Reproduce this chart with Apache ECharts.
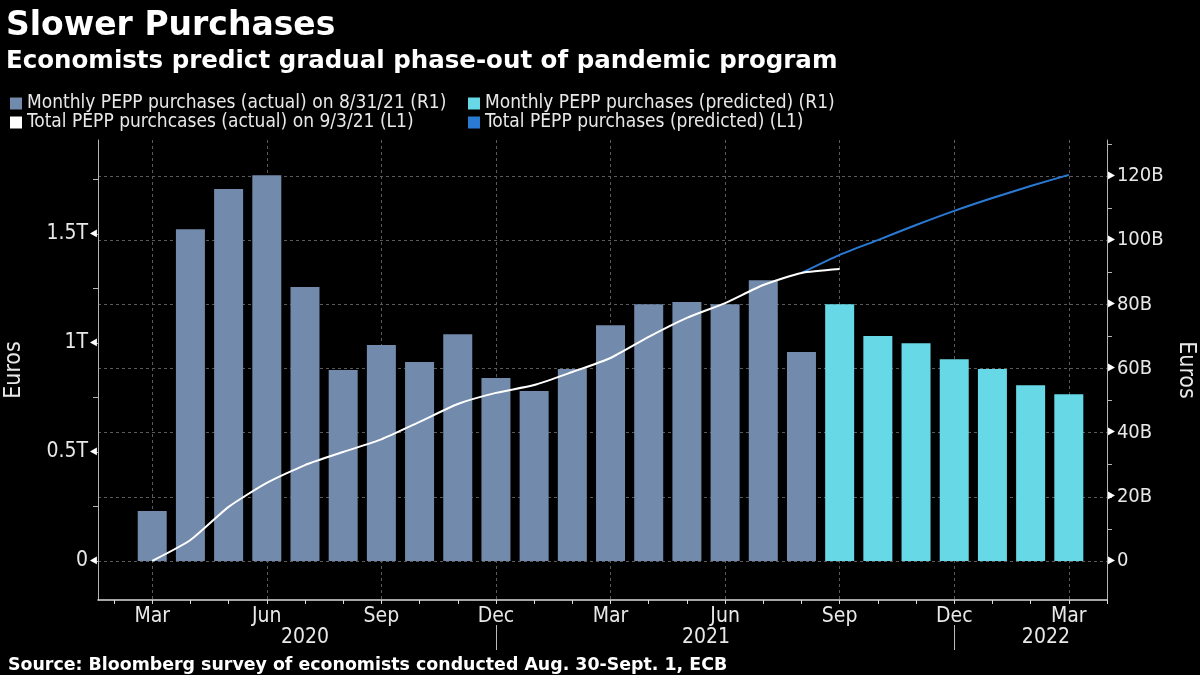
<!DOCTYPE html>
<html>
<head>
<meta charset="utf-8">
<script src="https://cdn.jsdelivr.net/npm/echarts@6/dist/echarts.min.js"></script>
<style>
  html, body { margin: 0; padding: 0; background: #000; }
  #chart { width: 1200px; height: 675px; }
</style>
</head>
<body>
<div id="chart"></div>
<script>
// months from Feb 2020 (index 0) to Mar 2022 (index 25)
var months = ['Feb','Mar','Apr','May','Jun','Jul','Aug','Sep','Oct','Nov','Dec',
  'Jan','Feb','Mar','Apr','May','Jun','Jul','Aug','Sep','Oct','Nov','Dec',
  'Jan','Feb','Mar'];
var monthTicks = [0,1,2,3,4,5,6,7,8,9,10,11,12,13,14,15,16,17,18,19,20,21,22,23,24,25,26];
var quarterTicks = [1,4,7,10,13,16,19,22,25];
var yearBreaks = [10, 22];
var yearLabels = { 5: '2020', 15.5: '2021', 24.4: '2022' };

// monthly purchases, billions (right axis)
var monthlyActual = [0, 15.6, 103.4, 115.9, 120.2, 85.4, 59.5, 67.3, 62, 70.7, 57,
  53, 59.8, 73.5, 80, 80.7, 80, 87.5, 65.1];
var monthlyPredicted = [80, 70.1, 67.9, 62.9, 59.8, 54.8, 52];
var predictedStart = 19;

// cumulative purchases, trillions (left axis)
var totalActual = [0, 0.096, 0.248, 0.358, 0.44, 0.5, 0.558, 0.638, 0.72, 0.771,
  0.807, 0.867, 0.931, 1.028, 1.115, 1.183, 1.266, 1.321, 1.339];
var totalActualStart = 1;
var totalPredicted = [1.321, 1.404, 1.472, 1.541, 1.606, 1.665, 1.72, 1.771];
var totalPredictedStart = 18;

var leftTicks = [0, 0.25, 0.5, 0.75, 1, 1.25, 1.5, 1.75];
var leftLabels = [0, 0.5, 1, 1.5];
var rightTicks = [0, 10, 20, 30, 40, 50, 60, 70, 80, 90, 100, 110, 120, 130];
var rightLabels = [0, 20, 40, 60, 80, 100, 120];

function pairs(arr, start) {
  return arr.map(function (v, i) { return [start + i, v]; });
}

var FONT = "'Liberation Sans Narrow', 'DejaVu Sans Condensed', 'Liberation Sans', sans-serif";
var BOLD = "'DejaVu Sans', sans-serif";
var TEXT = '#e8e8e8';
var GRID = '#5a5a5a';
var AXIS = '#b4b4b4';

var chart = echarts.init(document.getElementById('chart'));

var xBase = { type: 'value', min: -0.42, max: 26.0, gridIndex: 0 };

var option = {
  backgroundColor: '#000',
  animation: false,
  textStyle: { fontFamily: FONT, color: TEXT },
  title: [
    { text: 'Slower Purchases', left: 1, top: 5,
      textStyle: { color: '#fff', fontSize: 33, fontWeight: 'bold', fontFamily: BOLD } },
    { text: 'Economists predict gradual phase-out of pandemic program', left: 1, top: 44,
      textStyle: { color: '#fff', fontSize: 24.5, fontWeight: 'bold', fontFamily: BOLD } },
    { text: 'Source: Bloomberg survey of economists conducted Aug. 30-Sept. 1, ECB', left: 3, top: 652,
      textStyle: { color: '#fff', fontSize: 17.4, fontWeight: 'bold', fontFamily: BOLD } }
  ],
  legend: [
    { left: 5, top: 89, orient: 'vertical', itemWidth: 12, itemHeight: 12, itemGap: 0,
      icon: 'rect', textStyle: { color: TEXT, fontSize: 19, fontFamily: FONT },
      data: ['Monthly PEPP purchases (actual) on 8/31/21 (R1)', 'Total PEPP purchcases (actual) on 9/3/21 (L1)'] },
    { left: 463, top: 89, orient: 'vertical', itemWidth: 12, itemHeight: 12, itemGap: 0,
      icon: 'rect', textStyle: { color: TEXT, fontSize: 19, fontFamily: FONT },
      data: ['Monthly PEPP purchases (predicted) (R1)', 'Total PEPP purchases (predicted) (L1)'] }
  ],
  grid: { left: 98, right: 93, top: 140, bottom: 75, containLabel: false, outerBoundsMode: 'none' },
  xAxis: [
    // month ticks and quarter labels
    Object.assign({}, xBase, {
      position: 'bottom',
      axisLine: { show: true, onZero: false, lineStyle: { color: '#dcdcdc', width: 1.5 } },
      axisTick: { show: true, length: 4, customValues: monthTicks, lineStyle: { color: '#dcdcdc' } },
      axisLabel: { customValues: quarterTicks, margin: 6, color: TEXT, fontSize: 21,
        formatter: function (v) { return months[Math.round(v)]; } },
      splitLine: { show: false }
    }),
    // vertical dashed grid at quarters
    Object.assign({}, xBase, {
      position: 'bottom',
      axisLine: { show: false, onZero: false },
      axisTick: { show: false, customValues: quarterTicks },
      axisLabel: { show: false },
      splitLine: { show: true, lineStyle: { color: GRID, type: [3, 3], width: 1 } }
    }),
    // years
    Object.assign({}, xBase, {
      position: 'bottom', offset: 25,
      axisLine: { show: false, onZero: false },
      axisTick: { show: true, customValues: yearBreaks, length: 25, lineStyle: { color: '#bbb' } },
      axisLabel: { customValues: [5, 15.5, 24.4], margin: 2, color: TEXT, fontSize: 21,
        formatter: function (v) { return yearLabels[v]; } },
      splitLine: { show: false }
    })
  ],
  yAxis: [
    // left: total, trillions
    { type: 'value', position: 'left', min: -0.179, max: 1.931,
      name: 'Euros', nameLocation: 'middle', nameGap: 72,
      nameTextStyle: { color: TEXT, fontSize: 23, fontFamily: FONT },
      axisLine: { show: true, onZero: false, lineStyle: { color: AXIS } },
      axisTick: { show: true, customValues: leftTicks, length: 5, lineStyle: { color: AXIS } },
      axisLabel: { customValues: leftLabels, margin: 1, color: TEXT, fontSize: 21,
        formatter: function (v) { return (v === 0 ? '0' : v + 'T') + '{t|◀}'; },
        rich: { t: { fontSize: 10, color: '#fff', padding: [0, 0, 2, 2] } } },
      splitLine: { show: false } },
    // right: monthly, billions
    { type: 'value', position: 'right', min: -12.15, max: 131.2,
      name: 'Euros', nameLocation: 'middle', nameGap: 67, nameRotate: -90,
      nameTextStyle: { color: TEXT, fontSize: 23, fontFamily: FONT },
      axisLine: { show: true, onZero: false, lineStyle: { color: AXIS } },
      axisTick: { show: true, customValues: rightTicks, length: 5, lineStyle: { color: AXIS } },
      axisLabel: { customValues: rightLabels, margin: 1, color: TEXT, fontSize: 20,
        formatter: function (v) { return '{t|▶}' + (v === 0 ? '0' : v + 'B'); },
        rich: { t: { fontSize: 10, color: '#fff', padding: [0, 2, 2, 0] } } },
      splitLine: { show: false } },
    // horizontal dashed grid every 20B
    { type: 'value', position: 'right', min: -12.15, max: 131.2,
      axisLine: { show: false, onZero: false },
      axisTick: { show: false, customValues: rightLabels },
      axisLabel: { show: false },
      splitLine: { show: true, lineStyle: { color: GRID, type: [3, 3], width: 1 } } }
  ],
  series: [
    { name: 'Monthly PEPP purchases (actual) on 8/31/21 (R1)', type: 'bar',
      xAxisIndex: 0, yAxisIndex: 1, barWidth: 29, barGap: '-100%',
      itemStyle: { color: '#728aab' },
      data: pairs(monthlyActual, 0) },
    { name: 'Monthly PEPP purchases (predicted) (R1)', type: 'bar',
      xAxisIndex: 0, yAxisIndex: 1, barWidth: 29, barGap: '-100%',
      itemStyle: { color: '#67d8e6' },
      data: pairs(monthlyPredicted, predictedStart) },
    { name: 'Total PEPP purchcases (actual) on 9/3/21 (L1)', type: 'line',
      xAxisIndex: 0, yAxisIndex: 0, showSymbol: false, smooth: 0.2, z: 5,
      itemStyle: { color: '#ffffff' }, lineStyle: { color: '#ffffff', width: 2 },
      data: pairs(totalActual, totalActualStart) },
    { name: 'Total PEPP purchases (predicted) (L1)', type: 'line',
      xAxisIndex: 0, yAxisIndex: 0, showSymbol: false, smooth: 0.2, z: 4,
      itemStyle: { color: '#2a7ad4' }, lineStyle: { color: '#2a7ad4', width: 2 },
      data: pairs(totalPredicted, totalPredictedStart) }
  ]
};

chart.setOption(option);
</script>
</body>
</html>
